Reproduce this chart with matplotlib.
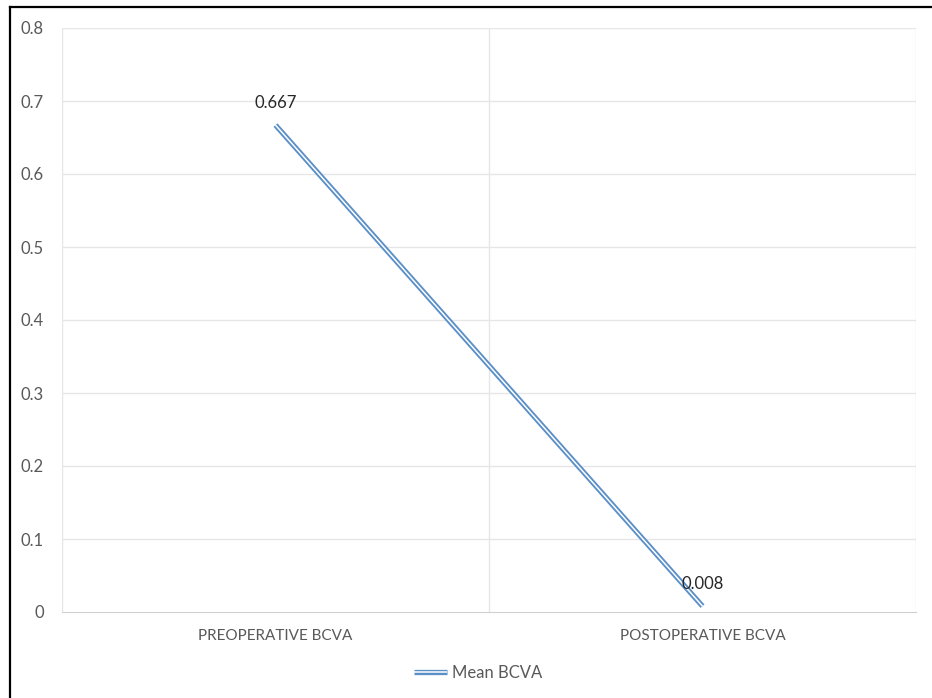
import matplotlib.pyplot as plt
import matplotlib.patheffects as pe
from matplotlib.lines import Line2D

categories = ['PREOPERATIVE BCVA', 'POSTOPERATIVE BCVA']
mean_bcva = [0.667, 0.008]
value_labels = ['0.667', '0.008']
yticks = [0, 0.1, 0.2, 0.3, 0.4, 0.5, 0.6, 0.7, 0.8]

plt.rcParams['font.family'] = ['Lato', 'DejaVu Sans']

fig = plt.figure(figsize=(9.32, 6.98), dpi=100)
ax = fig.add_axes([62/932, 1-612/698, (916-62)/932, (612-28)/698])

xpos = list(range(len(categories)))
blue = '#5b8fc7'
# double line: blue stroke with a white core
ax.plot(xpos, mean_bcva, color='white', lw=1.1, solid_capstyle='butt',
        label='Mean BCVA', zorder=3,
        path_effects=[pe.Stroke(linewidth=3.8, foreground=blue, capstyle='butt'), pe.Normal()])

for x, v, s in zip(xpos, mean_bcva, value_labels):
    ax.annotate(s, (x, v), xytext=(0, 16), textcoords='offset points',
                ha='center', va='center', fontsize=12, color='#262626')

ax.set_xlim(-0.5, len(categories) - 0.5)
ax.set_ylim(0, 0.8)
ax.set_yticks(yticks)
ax.set_yticklabels(['0' if t == 0 else f'{t:g}' for t in yticks])
ax.set_xticks(xpos)
ax.set_xticklabels(categories)

# category boundaries as vertical gridlines
for b in [x + 0.5 for x in range(-1, len(categories))]:
    ax.axvline(b, color='#e6e6e6', lw=1, zorder=0)
for t in yticks[1:]:
    ax.axhline(t, color='#e6e6e6', lw=1, zorder=0)

for side in ['top', 'right', 'left']:
    ax.spines[side].set_visible(False)
ax.spines['bottom'].set_color('#d0d0d0')
ax.tick_params(axis='x', length=0, labelsize=11, colors='#595959', pad=12)
ax.tick_params(axis='y', length=0, labelsize=12, colors='#595959', pad=13)

leg = fig.legend(loc='center', bbox_to_anchor=(478/932, 1-673/698), frameon=False,
                 fontsize=12, handlelength=2.0, handletextpad=0.3)
for t in leg.get_texts():
    t.set_color('#595959')

# outer frame edges (top and left)
fig.add_artist(Line2D([10/932, 1], [1-7/698, 1-7/698], color='black', lw=1.6, transform=fig.transFigure))
fig.add_artist(Line2D([10/932, 10/932], [0, 1-7/698], color='black', lw=1.6, transform=fig.transFigure))

fig.savefig('out.png', dpi=100)
